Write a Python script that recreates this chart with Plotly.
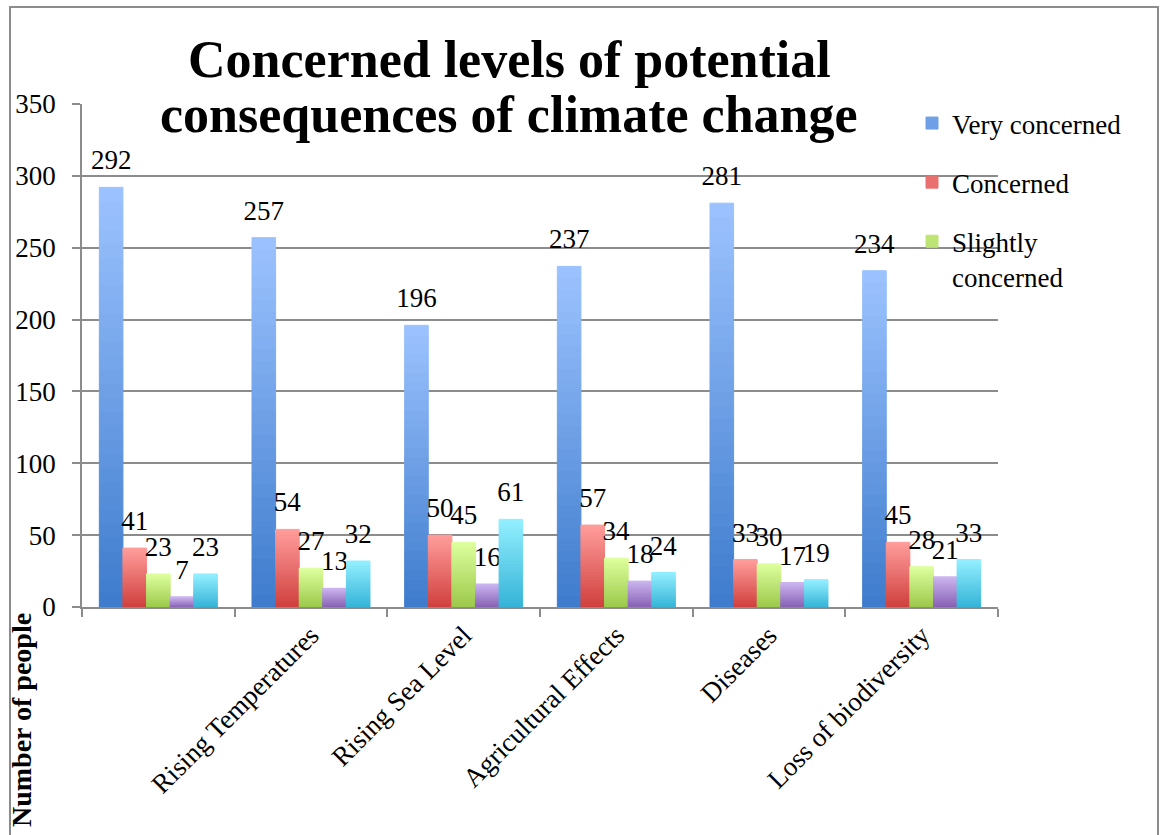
import plotly.graph_objects as go

# Survey results: number of people at each concern level, per consequence
categories = [" ", "Rising Temperatures", "Rising Sea Level",
              "Agricultural Effects", "Diseases", "Loss of biodiversity"]

very_concerned = [292, 257, 196, 237, 281, 234]
concerned = [41, 54, 50, 57, 33, 45]
slightly_concerned = [23, 27, 45, 34, 30, 28]
not_very_concerned = [7, 13, 16, 18, 17, 21]
not_concerned = [23, 32, 61, 24, 19, 33]

series = [
    ("Very concerned", very_concerned, ("#9dc3ff", "#3d7bcc"), True),
    ("Concerned", concerned, ("#ff9d9b", "#cf3f3d"), True),
    ("Slightly<br>concerned", slightly_concerned, ("#ddff9d", "#9bc84a"), True),
    ("Not very concerned", not_very_concerned, ("#cbb4ef", "#8660b3"), False),
    ("Not concerned", not_concerned, ("#93efff", "#34b3d7"), False),
]

FONT = "Liberation Serif"
GRID = "#8c8c8c"
N_SLICES = 30  # vertical bands used to shade each bar from dark (bottom) to light (top)


def hex_to_rgb(h):
    h = h.lstrip("#")
    return tuple(int(h[i:i + 2], 16) for i in (0, 2, 4))


def blend(top, bottom, t):
    a, b = hex_to_rgb(bottom), hex_to_rgb(top)
    return "rgb({},{},{})".format(*[round(a[i] + (b[i] - a[i]) * t) for i in range(3)])


fig = go.Figure()

for j, (name, values, (top, bottom), in_legend) in enumerate(series):
    for k in range(N_SLICES):
        last = k == N_SLICES - 1
        shade = blend(top, bottom, (k + 0.5) / N_SLICES)
        fig.add_trace(go.Bar(
            x=categories,
            y=[v / N_SLICES for v in values],
            base=[v * k / N_SLICES for v in values],
            offsetgroup=str(j),
            legendgroup=name,
            name=name,
            showlegend=in_legend and k == N_SLICES // 2,
            marker=dict(color=shade, line=dict(width=1, color=shade)),
            text=values if last else None,
            # value label in 27px, followed by a small spacer line that lifts it off the bar
            texttemplate="<span style='font-size:27px'>%{text}</span><br>&nbsp;" if last else None,
            textposition="outside" if last else "none",
            textfont=dict(family=FONT, size=10, color="black"),
            constraintext="none",
            cliponaxis=False,
            hoverinfo="skip",
        ))

# plot area in pixels: x 82..998, y 104..607
L, R, T, B = 82, 165, 104, 228
W, H = 1163, 835
pw, ph = W - L - R, H - T - B


def px(x):
    return (x - L) / pw


def py(y):
    return (H - B - y) / ph


annotations = [
    dict(text="<b>Concerned levels of potential</b>", x=px(509), y=py(59),
         xref="paper", yref="paper", xanchor="center", yanchor="middle",
         showarrow=False, font=dict(family=FONT, size=52, color="black")),
    dict(text="<b>consequences of climate change</b>", x=px(509), y=py(114),
         xref="paper", yref="paper", xanchor="center", yanchor="middle",
         showarrow=False, font=dict(family=FONT, size=52, color="black")),
    dict(text="<b>Number of people</b>", x=px(21), y=py(720), textangle=-90,
         xref="paper", yref="paper", xanchor="center", yanchor="middle",
         showarrow=False, font=dict(family=FONT, size=28, color="black")),
]

shapes = [
    dict(type="rect", xref="paper", yref="paper",
         x0=px(10), x1=px(1158), y0=py(850), y1=py(7),
         line=dict(color=GRID, width=2), fillcolor="rgba(0,0,0,0)", layer="above"),
]

fig.update_layout(
    width=W, height=H,
    margin=dict(l=L, r=R, t=T, b=B, pad=0),
    paper_bgcolor="white", plot_bgcolor="white",
    barmode="group", bargap=0.227, bargroupgap=0,
    font=dict(family=FONT, size=27, color="black"),
    annotations=annotations,
    shapes=shapes,
    legend=dict(x=px(912), y=py(99), xanchor="left", yanchor="top",
                traceorder="grouped", tracegroupgap=21, valign="top",
                font=dict(family=FONT, size=27, color="black"),
                bgcolor="rgba(0,0,0,0)"),
    xaxis=dict(type="category", categoryorder="array", categoryarray=categories,
               tickson="boundaries", ticks="outside", ticklen=8,
               tickcolor=GRID, tickwidth=1.5, showline=True, linecolor=GRID,
               linewidth=1.5, tickangle=-45, showgrid=False,
               tickfont=dict(family=FONT, size=27, color="black")),
    yaxis=dict(range=[0, 350], dtick=50, showgrid=True, gridcolor=GRID,
               gridwidth=1.5, ticks="outside", ticklen=8, tickcolor=GRID,
               tickwidth=1.5, showline=True, linecolor=GRID, linewidth=1.5,
               zeroline=False, ticklabelstandoff=11,
               tickfont=dict(family=FONT, size=27, color="black")),
)

fig.write_html("out.html")
